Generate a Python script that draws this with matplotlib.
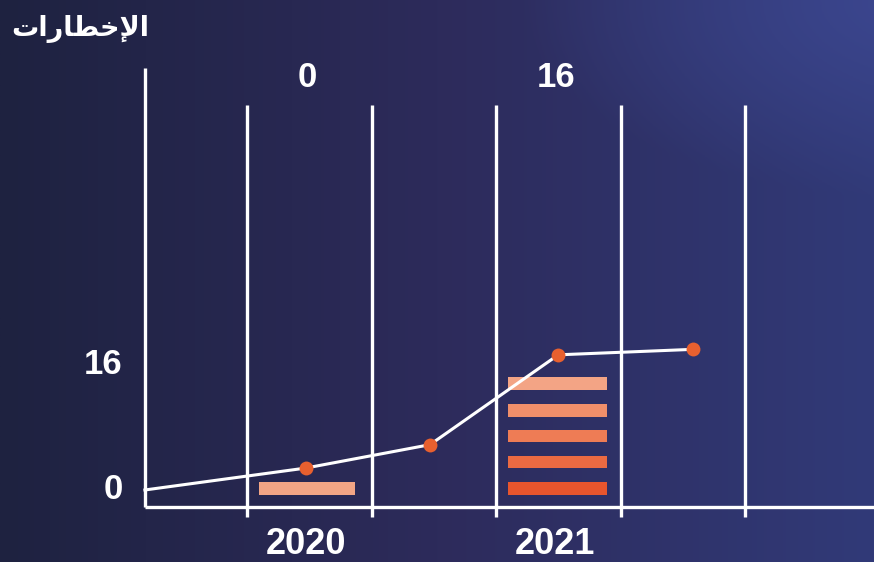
import numpy as np
import matplotlib.pyplot as plt
from matplotlib.colors import to_rgb

# ---- data ----
title = "\uFE95\uFE8D\uFEAD\uFE8E\uFEC4\uFEA7\uFEF9\uFE8D"  # الإخطارات (shaped, visual order)
years = ["2020", "2021"]
year_x = [1.5, 3.5]
top_counts = ["0", "16"]
y_ticks = [0, 16]

line_x = [0.18, 1.47, 2.47, 3.50, 4.58]
line_y = [0.0, 2.8, 5.8, 17.3, 18.0]

bar_left = [1.10, 3.10]
bar_right = [1.87, 3.89]
stripes_2020 = [0.2]
stripes_2021 = [0.2, 3.6, 6.9, 10.2, 13.6]
stripe_h = 1.6
stripe_colors_2021 = ["#e8552d", "#eb6a42", "#ee7c55", "#f08f6a", "#f3a485"]
stripe_color_2020 = "#f2a585"

grid_x = [1, 2, 3, 4, 5]
axis_x = 0.18
base_y = -2.18

# ---- figure ----
fig = plt.figure(figsize=(8.74, 5.62), dpi=100)
ax = fig.add_axes([0, 0, 1, 1])
x0, x1 = -0.984, 6.036
y0, y1 = -9.22, 62.72
ax.set_xlim(x0, x1)
ax.set_ylim(y0, y1)
ax.axis("off")

# background gradient
nx, ny = 300, 200
gx = np.linspace(0, 1, nx)
c_left = np.array(to_rgb("#1e2240"))
c_mid = np.array(to_rgb("#2d2b5b"))
c_right = np.array(to_rgb("#313a78"))
t = gx[None, :, None]
img = np.where(t < 0.5,
               c_left + (c_mid - c_left) * (t / 0.5),
               c_mid + (c_right - c_mid) * ((t - 0.5) / 0.5))
img = np.broadcast_to(img, (ny, nx, 3)).copy()
# lighter corner top right
XX, YY = np.meshgrid(gx, np.linspace(0, 1, ny))
d = np.sqrt(((XX - 1.05) / 0.45) ** 2 + ((YY - 1.0) / 0.35) ** 2)
glow = np.clip(1 - d, 0, 1)[..., None]
img = img + glow * (np.array(to_rgb("#3d4892")) - img) * 0.9
ax.imshow(img, extent=[x0, x1, y0, y1], origin="lower", aspect="auto", zorder=0)

# axes frame and grid lines
lw = 2.4
ax.plot([axis_x, axis_x], [54.0, base_y], color="white", lw=lw, zorder=2, solid_capstyle="butt")
ax.plot([axis_x, x1], [base_y, base_y], color="white", lw=lw, zorder=2, solid_capstyle="butt")
for gxv in grid_x:
    ax.plot([gxv, gxv], [49.3, -3.5], color="white", lw=lw, zorder=2, solid_capstyle="butt")

# striped bars
for yb in stripes_2020:
    ax.bar((bar_left[0] + bar_right[0]) / 2, stripe_h, width=bar_right[0] - bar_left[0],
           bottom=yb - stripe_h / 2, color=stripe_color_2020, zorder=3)
for yb, c in zip(stripes_2021, stripe_colors_2021):
    ax.bar((bar_left[1] + bar_right[1]) / 2, stripe_h, width=bar_right[1] - bar_left[1],
           bottom=yb - stripe_h / 2, color=c, zorder=3)

# line
ax.plot(line_x, line_y, color="white", lw=2.2, zorder=4)
ax.scatter(line_x[1:], line_y[1:], s=100, color="#e8602f", zorder=5, linewidths=0)

# labels
fnt = "Liberation Sans"
for yv in y_ticks:
    ax.text(0.0, yv, str(yv), color="white", fontsize=25, fontweight="bold",
            family=fnt, ha="right", va="center", zorder=6)
for xv, s in zip(year_x, years):
    ax.text(xv - 0.03, -7.0, s, color="white", fontsize=26, fontweight="bold",
            family=fnt, ha="center", va="center", zorder=6)
for xv, s in zip(year_x, top_counts):
    ax.text(xv - 0.02, 52.8, s, color="white", fontsize=25, fontweight="bold",
            family=fnt, ha="center", va="center", zorder=6)

fig.text(0.013, 0.949, title, color="white", fontsize=19.5, fontweight="bold",
         family="DejaVu Sans", ha="left", va="center")

fig.savefig("out.png", dpi=100)
